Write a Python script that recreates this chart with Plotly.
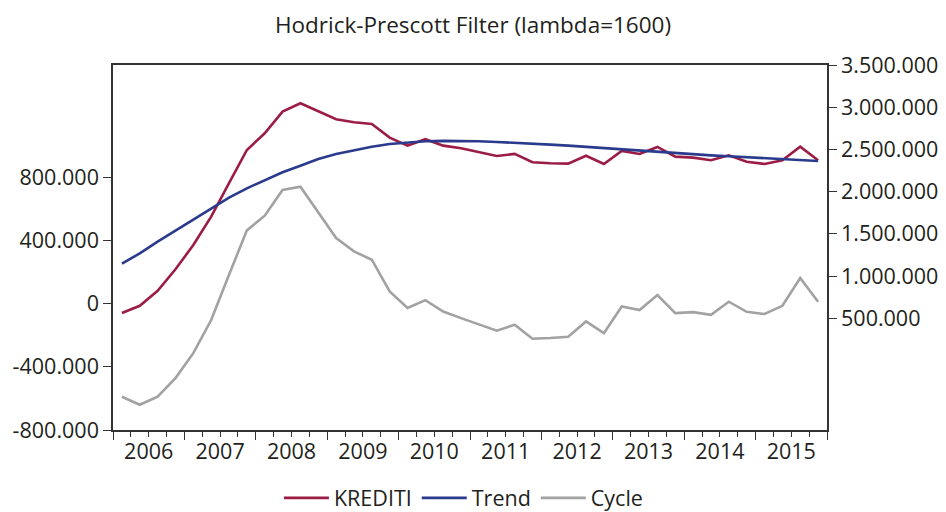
import plotly.graph_objects as go

# ---- data (quarterly, 2006Q1 .. 2015Q4) ----
years = list(range(2006, 2016))
quarters = [f"{y}Q{q}" for y in years for q in range(1, 5)]

krediti = [563000, 649000, 827000, 1081000, 1368000, 1704000, 2100000, 2494000,
           2692000, 2948000, 3047000, 2948000, 2858000, 2822000, 2802000, 2640000,
           2545000, 2621000, 2545000, 2514000, 2470000, 2423000, 2447000, 2348000,
           2336000, 2332000, 2426000, 2328000, 2482000, 2447000, 2530000, 2415000,
           2403000, 2372000, 2431000, 2355000, 2328000, 2372000, 2533000, 2372000]

trend = [1147000, 1270000, 1408000, 1538000, 1673000, 1803000, 1929000, 2040000,
         2139000, 2230000, 2308000, 2387000, 2447000, 2494000, 2533000, 2565000,
         2585000, 2597000, 2601000, 2601000, 2598000, 2589000, 2581000, 2569000,
         2557000, 2545000, 2530000, 2518000, 2502000, 2488000, 2474000, 2458000,
         2444000, 2430000, 2419000, 2409000, 2397000, 2386000, 2376000, 2364000]

cycle = [-589000, -640000, -589000, -471000, -313000, -103000, 184000, 465000,
         558000, 721000, 742000, 575000, 416000, 332000, 279000, 78000,
         -27000, 23000, -49000, -91000, -133000, -171000, -133000, -222000,
         -217000, -209000, -112000, -186000, -17000, -40000, 55000, -59000,
         -53000, -70000, 13000, -51000, -65000, -13000, 163000, 13000]

left_ticks = [-800000, -400000, 0, 400000, 800000]
left_labels = ["-800.000", "-400.000", "0", "400.000", "800.000"]
right_ticks = [500000, 1000000, 1500000, 2000000, 2500000, 3000000, 3500000]
right_labels = ["500.000", "1.000.000", "1.500.000", "2.000.000",
                "2.500.000", "3.000.000", "3.500.000"]
year_labels = [str(y) for y in years]

# quarter -> numeric position (centre of the quarter)
def qpos(label):
    y, q = label.split("Q")
    return int(y) + (int(q) - 0.5) / 4.0

x = [qpos(q) for q in quarters]
x_range = [years[0], years[-1] + 1]

quarter_bounds = [years[0] + k / 4.0 for k in range(len(years) * 4 + 1)]
bound_text = []
for b in quarter_bounds:
    if abs((b - int(b)) - 0.5) < 1e-9:
        bound_text.append(year_labels[int(b) - years[0]])
    else:
        bound_text.append("")
year_bounds = list(range(years[0], years[-1] + 2))

RED = "#9b1d45"
BLUE = "#2a3a8c"
GRAY = "#a2a2a2"
TXT = "#231f20"
AX = "#333333"
FONT = "Open Sans"

# page has an 8px body margin -> figure is 8px smaller than the window
W, H = 938, 504

fig = go.Figure()
fig.add_trace(go.Scatter(x=x, y=krediti, name="KREDITI", mode="lines",
                         line=dict(color=RED, width=2.6), yaxis="y2"))
fig.add_trace(go.Scatter(x=x, y=trend, name="Trend", mode="lines",
                         line=dict(color=BLUE, width=2.6), yaxis="y2"))
fig.add_trace(go.Scatter(x=x, y=cycle, name="Cycle", mode="lines",
                         line=dict(color=GRAY, width=2.6), yaxis="y"))
# invisible trace to activate the long-tick overlay axis
fig.add_trace(go.Scatter(x=[x_range[0]], y=[0], xaxis="x2", yaxis="y",
                         mode="markers", marker=dict(opacity=0),
                         showlegend=False, hoverinfo="skip"))

fig.update_layout(
    width=W, height=H,
    margin=dict(l=105, r=119, t=57, b=82, autoexpand=False),
    paper_bgcolor="white", plot_bgcolor="white",
    font=dict(family=FONT, size=21.5, color=TXT),
    title=dict(text="Hodrick-Prescott Filter (lambda=1600)", x=(473 - 8) / W,
               xanchor="center", y=1 - 17.5 / H, yanchor="middle",
               font=dict(size=22.5, color=TXT)),
    showlegend=True,
    legend=dict(orientation="h", x=(469 - 8) / W, xanchor="center", y=-0.186,
                yanchor="middle", font=dict(size=21.5, color=TXT), itemwidth=45,
                traceorder="normal"),
    xaxis=dict(range=x_range, tickmode="array", tickvals=quarter_bounds,
               ticktext=bound_text, ticks="outside", ticklen=5, tickwidth=1.3,
               tickcolor=AX, showline=True, linecolor=AX, linewidth=1.5,
               mirror=True, showgrid=False, zeroline=False, tickangle=0,
               automargin=False, ticklabelstandoff=-4),
    xaxis2=dict(range=x_range, overlaying="x", anchor="y", side="bottom",
                tickmode="array", tickvals=year_bounds, showticklabels=False,
                ticks="outside", ticklen=9, tickwidth=1.3, tickcolor=AX,
                showline=False, showgrid=False, zeroline=False, automargin=False),
    yaxis=dict(range=[-800000, 1513000], tickmode="array", tickvals=left_ticks,
               ticktext=left_labels, ticks="outside", ticklen=8, tickwidth=1.3,
               tickcolor=AX, showline=True, linecolor=AX, linewidth=1.5,
               showgrid=False, zeroline=False, automargin=False),
    yaxis2=dict(range=[-822000, 3500000], overlaying="y", side="right",
                tickmode="array", tickvals=right_ticks, ticktext=right_labels,
                ticks="outside", ticklen=8, tickwidth=1.3, tickcolor=AX,
                showline=True, linecolor=AX, linewidth=1.5,
                showgrid=False, zeroline=False, automargin=False),
)

fig.write_html("out.html")
